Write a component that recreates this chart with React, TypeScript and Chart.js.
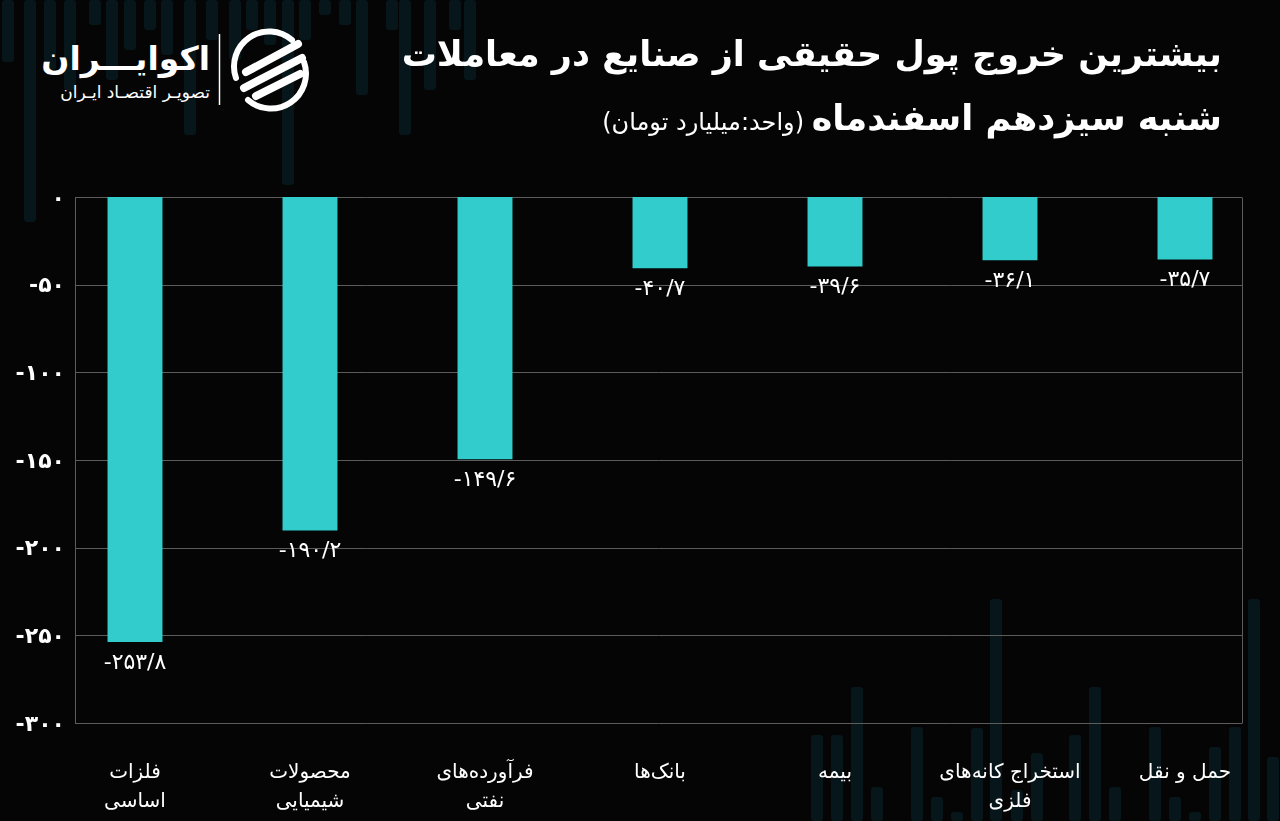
import React, { useEffect, useRef } from "react";
import { Chart, registerables } from "chart.js";

Chart.register(...registerables);

const categories: string[][] = [
  ["فلزات", "اساسی"],
  ["محصولات", "شیمیایی"],
  ["فرآورده‌های", "نفتی"],
  ["بانک‌ها"],
  ["بیمه"],
  ["استخراج کانه‌های", "فلزی"],
  ["حمل و نقل"],
];
const values: number[] = [-253.8, -190.2, -149.6, -40.7, -39.6, -36.1, -35.7];
const yTicks: number[] = [0, -50, -100, -150, -200, -250, -300];

const titleLine1 = "بیشترین خروج پول حقیقی از صنایع در معاملات";
const titleLine2 = "شنبه سیزدهم اسفندماه";
const unitText = "(واحد:میلیارد تومان)";
const brandName = "اکوایـــران";
const brandTagline = "تصویـر اقتصـاد ایـران";

const FA = "۰۱۲۳۴۵۶۷۸۹";
const toFa = (s: string) => s.replace(/[0-9]/g, (d) => FA[Number(d)]).replace(".", "/");

const FONT = "'DejaVu Sans', 'Noto Sans', sans-serif";

// decorative faint background stripes (x, y-end) — purely ornamental
const topStripes: number[][] = [
  [8, 62], [30, 222], [50, 70], [70, 90], [95, 25], [112, 80], [130, 50], [150, 30],
  [167, 55], [190, 135], [212, 40], [235, 60], [252, 30], [270, 45], [288, 185],
  [305, 40], [325, 15], [345, 25], [362, 95], [392, 30], [405, 135], [430, 90], [455, 30], [470, 80],
];
const bottomStripes: number[][] = [
  [817, 735], [837, 735], [857, 687], [877, 787], [917, 727], [937, 797], [957, 812],
  [977, 728], [996, 599], [1017, 790], [1037, 753], [1075, 735], [1095, 687], [1115, 787],
  [1155, 727], [1175, 797], [1195, 812], [1215, 747], [1235, 727], [1254, 599], [1273, 757],
];

export default function App() {
  const ref = useRef<HTMLCanvasElement | null>(null);

  useEffect(() => {
    document.body.style.margin = "0";
    const canvas = ref.current;
    if (!canvas) return;

    const framePlugin = {
      id: "frame",
      beforeDatasetsDraw(chart: any) {
        const { ctx, scales } = chart;
        const y = scales.y;
        const left = 75;
        const right = 1242;
        ctx.save();
        ctx.strokeStyle = "#5c5c5c";
        ctx.lineWidth = 1;
        yTicks.forEach((t) => {
          const py = Math.round(y.getPixelForValue(t)) + 0.5;
          ctx.beginPath();
          ctx.moveTo(left, py);
          ctx.lineTo(right, py);
          ctx.stroke();
        });
        const top = Math.round(y.getPixelForValue(0)) + 0.5;
        const bot = Math.round(y.getPixelForValue(-300)) + 0.5;
        [left + 0.5, right + 0.5].forEach((px) => {
          ctx.beginPath();
          ctx.moveTo(px, top);
          ctx.lineTo(px, bot);
          ctx.stroke();
        });
        ctx.fillStyle = "#ffffff";
        ctx.font = `bold 22px ${FONT}`;
        ctx.textAlign = "right";
        ctx.textBaseline = "middle";
        yTicks.forEach((t) => {
          ctx.fillText(toFa(String(t)), 65, y.getPixelForValue(t) + 2);
        });
        ctx.restore();
      },
      afterDatasetsDraw(chart: any) {
        const { ctx } = chart;
        const meta = chart.getDatasetMeta(0);
        ctx.save();
        ctx.fillStyle = "#ffffff";
        ctx.font = `22px ${FONT}`;
        ctx.textAlign = "center";
        ctx.textBaseline = "top";
        meta.data.forEach((el: any, i: number) => {
          ctx.fillText(toFa(values[i].toFixed(1)), el.x, el.y + 10);
        });
        ctx.restore();
      },
    };

    const chart = new Chart(canvas, {
      type: "bar",
      data: {
        labels: categories,
        datasets: [
          {
            data: values,
            backgroundColor: "#33CCCC",
            barPercentage: 0.314,
            categoryPercentage: 1,
          },
        ],
      },
      options: {
        animation: false,
        responsive: false,
        layout: { padding: { left: 47.5, right: 7.5, top: 197, bottom: 0 } },
        plugins: { legend: { display: false }, tooltip: { enabled: false } },
        scales: {
          x: {
            grid: { display: false, drawTicks: false },
            border: { display: false },
            ticks: {
              color: "#ffffff",
              font: { family: FONT, size: 20, lineHeight: 1.45 },
              padding: 35,
              maxRotation: 0,
              autoSkip: false,
            },
            afterFit: (s: any) => {
              s.height = 98;
            },
          },
          y: { display: false, min: -300, max: 0 },
        },
      },
      plugins: [framePlugin],
    });
    return () => chart.destroy();
  }, []);

  return (
    <div
      style={{
        position: "fixed",
        left: 0,
        top: 0,
        width: 1280,
        height: 821,
        background: "#050505",
        overflow: "hidden",
        fontFamily: FONT,
      }}
    >
      <svg width={1280} height={821} style={{ position: "absolute", left: 0, top: 0 }}>
        {topStripes.map((s, i) => (
          <rect key={"t" + i} x={s[0] - 6} y={0} width={12} height={s[1]} rx={3} fill="#06161b" />
        ))}
        {bottomStripes.map((s, i) => (
          <rect key={"b" + i} x={s[0] - 6} y={s[1]} width={12} height={821 - s[1]} rx={3} fill="#06161b" />
        ))}
        {/* logo mark */}
        <line x1={219.5} y1={34} x2={219.5} y2={105} stroke="#ffffff" strokeWidth={1.5} />
        <g stroke="#ffffff" strokeLinecap="round" fill="none">
          <path d="M 292 40 A 35 35 0 0 0 236 78" strokeWidth={6} />
          <path d="M 248 100 A 35 35 0 0 0 304 62" strokeWidth={6} />
          <line x1={246} y1={72} x2={298} y2={44} strokeWidth={8} />
          <line x1={244} y1={88} x2={302} y2={58} strokeWidth={8} />
          <line x1={256} y1={96} x2={300} y2={74} strokeWidth={8} />
        </g>
      </svg>
      <div
        style={{
          position: "absolute",
          right: 1070,
          top: 37,
          direction: "rtl",
          color: "#ffffff",
          fontWeight: "bold",
          fontSize: 33,
          lineHeight: "44px",
          whiteSpace: "nowrap",
        }}
      >
        {brandName}
      </div>
      <div
        style={{
          position: "absolute",
          right: 1070,
          top: 80,
          direction: "rtl",
          color: "#ffffff",
          fontSize: 17,
          lineHeight: "24px",
          whiteSpace: "nowrap",
        }}
      >
        {brandTagline}
      </div>
      <canvas ref={ref} width={1280} height={821} style={{ position: "absolute", left: 0, top: 0 }} />
      <div
        style={{
          position: "absolute",
          right: 58,
          top: 26,
          direction: "rtl",
          color: "#ffffff",
          fontWeight: "bold",
          fontSize: 35,
          whiteSpace: "nowrap",
          lineHeight: "56px",
        }}
      >
        {titleLine1}
      </div>
      <div
        style={{
          position: "absolute",
          right: 58,
          top: 90,
          direction: "rtl",
          color: "#ffffff",
          whiteSpace: "nowrap",
          lineHeight: "56px",
        }}
      >
        <span style={{ fontWeight: "bold", fontSize: 35 }}>{titleLine2}</span>
        <span style={{ fontSize: 24 }}> {unitText}</span>
      </div>
    </div>
  );
}
